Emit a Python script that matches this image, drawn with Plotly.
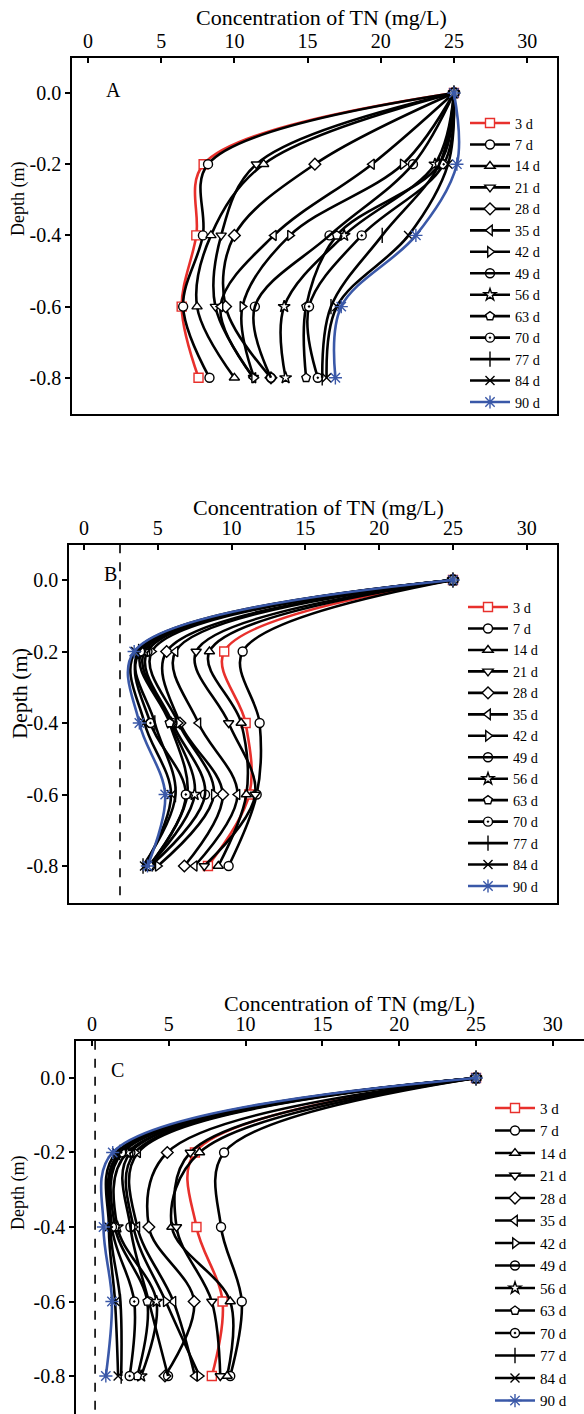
import plotly.graph_objects as go

W, H = 584, 1414

depth = [0.0, -0.2, -0.4, -0.6, -0.8]
days = ["3 d", "7 d", "14 d", "21 d", "28 d", "35 d", "42 d", "49 d",
        "56 d", "63 d", "70 d", "77 d", "84 d", "90 d"]

# Panel A: TN concentration (mg/L) at each depth for each day
tn_A = [
    [25, 7.9, 7.4, 6.4, 7.55],
    [25, 8.2, 7.85, 6.5, 8.3],
    [25, 12.0, 8.4, 7.45, 10.0],
    [25, 11.5, 9.1, 8.7, 11.3],
    [25, 15.5, 10.0, 9.4, 12.5],
    [25, 19.4, 12.7, 9.05, 11.3],
    [25, 21.5, 13.8, 10.55, 11.35],
    [25, 22.2, 16.5, 11.4, 12.5],
    [25, 23.7, 17.5, 13.4, 13.5],
    [25, 24.0, 17.0, 14.9, 14.9],
    [25, 24.3, 18.7, 15.1, 15.7],
    [25, 24.0, 20.1, 16.6, 16.0],
    [25, 24.6, 21.9, 17.0, 16.3],
    [25, 25.2, 22.4, 17.3, 16.9],
]
# Panel B
tn_B = [
    [25, 9.5, 10.95, 11.2, 8.4],
    [25, 10.75, 11.9, 11.7, 9.8],
    [25, 8.5, 10.65, 11.0, 9.1],
    [25, 7.6, 9.8, 11.6, 8.15],
    [25, 5.6, 6.5, 9.4, 6.8],
    [25, 6.2, 7.75, 10.4, 7.5],
    [25, 4.6, 6.4, 8.8, 5.0],
    [25, 4.3, 6.0, 8.2, 4.5],
    [25, 4.1, 5.9, 7.5, 4.4],
    [25, 3.9, 5.8, 7.0, 4.45],
    [25, 3.8, 4.5, 6.9, 4.4],
    [25, 3.7, 4.8, 6.2, 4.0],
    [25, 3.5, 4.1, 5.9, 4.1],
    [25, 3.4, 3.75, 5.5, 4.3],
]
# Panel C
tn_C = [
    [25, 6.7, 6.8, 8.5, 7.8],
    [25, 8.6, 8.4, 9.75, 9.0],
    [25, 7.0, 5.2, 9.0, 8.8],
    [25, 6.4, 5.5, 7.8, 8.35],
    [25, 4.9, 3.7, 6.65, 4.75],
    [25, 3.0, 2.95, 5.3, 6.7],
    [25, 2.8, 2.7, 4.8, 7.0],
    [25, 2.5, 2.5, 3.7, 4.95],
    [25, 2.3, 1.65, 4.2, 3.2],
    [25, 2.0, 1.5, 3.6, 2.95],
    [25, 1.9, 1.3, 2.75, 2.45],
    [25, 1.8, 1.2, 1.85, 1.9],
    [25, 1.6, 1.1, 1.5, 1.7],
    [25, 1.35, 0.75, 1.3, 0.9],
]
# dashed reference lines (mg/L)
ref_B = 2.44
ref_C = 0.2

x_ticks = [0, 5, 10, 15, 20, 25, 30]
y_ticks = [0.0, -0.2, -0.4, -0.6, -0.8]
y_tick_text = ["0.0", "-0.2", "-0.4", "-0.6", "-0.8"]

RED = "#e8302c"
BLUE = "#3a58a8"
BLACK = "#000000"
FONT = "Liberation Serif"

symbols = ["square", "circle", "triangle-up", "triangle-down", "diamond",
           "triangle-left", "triangle-right", "circle-open", "star", "pentagon",
           "circle-dot", "line-ns-open", "x-thin-open", "asterisk-open"]
open_syms = {"circle-open", "line-ns-open", "x-thin-open", "asterisk-open"}
msizes = {"line-ns-open": 11, "x-thin-open": 9, "asterisk-open": 11, "star": 9}


def color_for(i):
    if i == 0:
        return RED
    if i == 13:
        return BLUE
    return BLACK


def px_x(px):
    return px / W


def px_y(py):
    return 1 - py / H


fig = go.Figure()

panels = [
    (tn_A, "x", "y", "legend"),
    (tn_B, "x2", "y2", "legend2"),
    (tn_C, "x3", "y3", "legend3"),
]

for data, xa, ya, lg in panels:
    for i, (lab, vals) in enumerate(zip(days, data)):
        c = color_for(i)
        sym = symbols[i]
        if sym in open_syms:
            marker = dict(symbol=sym, size=msizes.get(sym, 9), color=c,
                          line=dict(color=c, width=1.4))
        else:
            marker = dict(symbol=sym, size=msizes.get(sym, 9), color="white",
                          line=dict(color=c, width=1.4))
        fig.add_trace(go.Scatter(
            x=vals, y=depth, mode="lines+markers", name=lab,
            line=dict(color=c, width=2.6, shape="spline", smoothing=1.0),
            marker=marker, xaxis=xa, yaxis=ya, legend=lg, showlegend=True,
        ))

# dashed reference lines
fig.add_trace(go.Scatter(x=[ref_B, ref_B], y=[0.1, -0.91], mode="lines",
                         line=dict(color=BLACK, width=1.6, dash="dash"),
                         xaxis="x2", yaxis="y2", showlegend=False))
fig.add_trace(go.Scatter(x=[ref_C, ref_C], y=[0.1, -0.91], mode="lines",
                         line=dict(color=BLACK, width=1.6, dash="dash"),
                         xaxis="x3", yaxis="y3", showlegend=False))

# panel geometry in pixels: (left, right, top, bottom, xrange, yrange)
geo = {
    "": (72, 557, 58, 414, [-1.093, 32.04], [-0.9017, 0.0983], True),
    "2": (69, 557, 545, 903, [-1.016, 32.05], [-0.9035, 0.0979], True),
    "3": (76, 584, 1041, 1414, [-1.042, 32.03], [-0.902, 0.0993], False),
}

for k, (l, r, t, b, xr, yr, mir) in geo.items():
    fig.layout["xaxis" + k] = dict(
        domain=[px_x(l), px_x(r)], range=xr, side="top",
        anchor="y" + k, tickvals=x_ticks, ticks="inside", ticklen=5,
        tickwidth=1.5, tickcolor=BLACK, showline=True, linewidth=1.5,
        linecolor=BLACK, mirror=mir, showgrid=False, zeroline=False,
        tickfont=dict(family=FONT, size=20, color=BLACK),
    )
    fig.layout["yaxis" + k] = dict(
        domain=[px_y(b), px_y(t)], range=yr, anchor="x" + k,
        tickvals=y_ticks, ticktext=y_tick_text, ticks="outside", ticklen=5,
        tickwidth=1.5, tickcolor=BLACK, showline=True, linewidth=1.5,
        linecolor=BLACK, mirror=mir, showgrid=False, zeroline=False,
        tickfont=dict(family=FONT, size=20, color=BLACK),
    )

annos = []
# x-axis titles
for cx, cy in [(321, 18), (318, 508), (349, 1003)]:
    annos.append(dict(text="Concentration of TN (mg/L)", x=px_x(cx), y=px_y(cy),
                      xref="paper", yref="paper", showarrow=False,
                      xanchor="center", yanchor="middle",
                      font=dict(family=FONT, size=22, color=BLACK)))
# y-axis titles
for cx, cy, fs in [(18, 199, 18), (19, 694, 22), (18, 1193, 18)]:
    annos.append(dict(text="Depth (m)", x=px_x(cx), y=px_y(cy), textangle=-90,
                      xref="paper", yref="paper", showarrow=False,
                      xanchor="center", yanchor="middle",
                      font=dict(family=FONT, size=fs, color=BLACK)))
# panel letters
for lab, cx, cy in [("A", 113, 90), ("B", 110, 574), ("C", 117, 1070)]:
    annos.append(dict(text=lab, x=px_x(cx), y=px_y(cy), xref="paper", yref="paper",
                      showarrow=False, xanchor="center", yanchor="middle",
                      font=dict(family=FONT, size=20, color=BLACK)))

legend_common = dict(bgcolor="rgba(0,0,0,0)", borderwidth=0, itemwidth=40,
                     xanchor="left", yanchor="top", tracegroupgap=0)

fig.update_layout(
    width=W, height=H,
    margin=dict(l=0, r=0, t=0, b=0, autoexpand=False),
    paper_bgcolor="white", plot_bgcolor="white",
    font=dict(family=FONT, color=BLACK),
    annotations=annos,
    legend=dict(x=px_x(465), y=px_y(107.3),
                font=dict(family=FONT, size=14.2, color=BLACK), **legend_common),
    legend2=dict(x=px_x(463), y=px_y(591.3),
                 font=dict(family=FONT, size=14.2, color=BLACK), **legend_common),
    legend3=dict(x=px_x(490), y=px_y(1091.8),
                 font=dict(family=FONT, size=15, color=BLACK), **legend_common),
)

fig.write_html("out.html")
